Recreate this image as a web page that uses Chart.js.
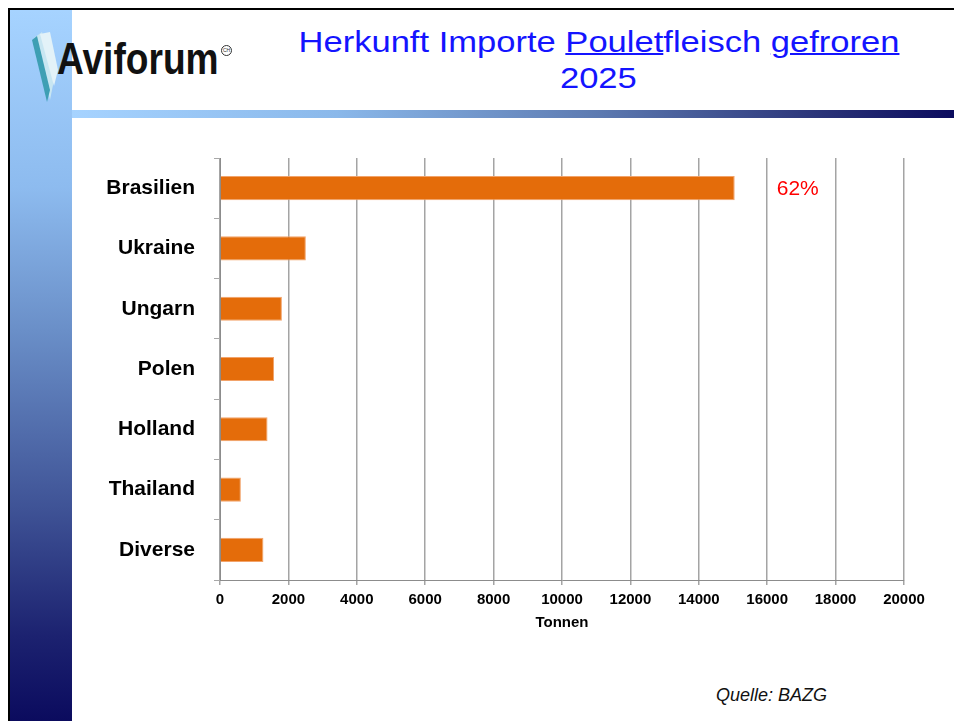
<!DOCTYPE html>
<html>
<head>
<meta charset="utf-8">
<script src="https://cdn.jsdelivr.net/npm/chart.js@4.4.1/dist/chart.umd.min.js"></script>
<style>
  html, body { margin: 0; padding: 0; background: #fff; }
  #slide { position: relative; width: 954px; height: 721px; overflow: hidden; font-family: 'Liberation Sans', Arial, sans-serif; }
  #frameTop { position: absolute; left: 8px; top: 8px; width: 946px; height: 2px; background: #000; }
  #frameLeft { position: absolute; left: 8px; top: 8px; width: 2px; height: 713px; background: #000; }
  #band { position: absolute; left: 10px; top: 10px; width: 62px; height: 711px;
    background: linear-gradient(#a6d3ff 0%, #8dbbef 25%, #6a8fc8 45%, #3f5396 70%, #1c2270 88%, #0b0b5e 100%); }
  #bar { position: absolute; left: 72px; top: 110px; width: 882px; height: 8px;
    background: linear-gradient(to right, #a6d3ff 0%, #8ab8ea 30%, #5c79b0 60%, #2a3378 85%, #0b0b5e 100%); }
  .fit { position: absolute; white-space: nowrap; transform-origin: 0 0; }
  #logo { left: 57px; top: 34px; font-size: 44px; font-weight: bold; color: #111; line-height: 50px; }
  #reg { position: absolute; left: 221px; top: 45px; width: 9px; height: 9px; border: 1px solid #333; border-radius: 50%;
    font-size: 5px; line-height: 9px; text-align: center; color: #333; }
  #title { position: absolute; left: 298px; top: 24px; width: 601px; color: #1414ff; font-size: 30px; line-height: 35.5px; text-align: center; }
  #title .ln { display: inline-block; white-space: nowrap; transform-origin: 50% 0; }
  #title u { text-decoration-thickness: 1.5px; }
  #quelle { position: absolute; left: 716px; top: 685px; font-size: 18px; font-style: italic; color: #111; }
  #c { position: absolute; left: 0; top: 0; }
</style>
</head>
<body>
<div id="slide">
  <div id="band"></div>
  <div id="bar"></div>
  <div id="frameTop"></div>
  <div id="frameLeft"></div>
  <svg style="position:absolute;left:28px;top:30px" width="40" height="75">
    <polygon points="6,8 14,2 26,50 22,70" fill="#c8e6f2"/>
    <polygon points="4,10 9,6 22,60 19,72" fill="#3e9fb4"/>
    <polygon points="12,4 22,2 30,40 26,56" fill="#e3f2f8"/>
  </svg>
  <div id="logo" class="fit">Aviforum</div>
  <div id="reg">CH</div>
  <div id="title">
    <span class="ln" id="t1">Herkunft Importe <u>Poulet</u>fleisch <u>gefroren</u></span><br>
    <span class="ln" id="t2">2025</span>
  </div>
  <div id="quelle">Quelle: BAZG</div>
  <canvas id="c" width="954" height="721"></canvas>
</div>
<script>
// Herkunft der Importe, Tonnen
const categories = ['Brasilien', 'Ukraine', 'Ungarn', 'Polen', 'Holland', 'Thailand', 'Diverse'];
const tonnen = [15050, 2510, 1810, 1580, 1390, 610, 1270];
const xTicks = [0, 2000, 4000, 6000, 8000, 10000, 12000, 14000, 16000, 18000, 20000];
const axisTitle = 'Tonnen';

// squeeze the slide texts to the widths in the original
const logo = document.getElementById('logo');
logo.style.transform = 'scaleX(' + (162 / logo.offsetWidth) + ')';
const t1 = document.getElementById('t1');
const sx = 601 / t1.offsetWidth;
t1.style.transform = 'scaleX(' + sx + ')';
document.getElementById('t2').style.transform = 'scaleX(' + sx + ')';

const fontFam = "'Liberation Sans', Arial, sans-serif";

// percentage next to the biggest bar
const shareLabel = {
  id: 'shareLabel',
  afterDatasetsDraw(chart) {
    const total = tonnen.reduce((a, b) => a + b, 0);
    const el = chart.getDatasetMeta(0).data[0];
    const ctx = chart.ctx;
    ctx.save();
    ctx.font = '21px ' + fontFam;
    ctx.fillStyle = '#ff0000';
    ctx.textBaseline = 'middle';
    ctx.fillText(Math.round(tonnen[0] / total * 100) + '%', el.x + 42, el.y + 1);
    ctx.restore();
  }
};

new Chart(document.getElementById('c'), {
  type: 'bar',
  data: {
    labels: categories,
    datasets: [{
      data: tonnen,
      backgroundColor: '#e46c0a',
      borderColor: '#f2a36a',
      borderWidth: 1,
      barPercentage: 0.4,
      categoryPercentage: 1.0
    }]
  },
  options: {
    indexAxis: 'y',
    responsive: false,
    devicePixelRatio: 1,
    animation: false,
    layout: { padding: { left: 80, top: 158, right: 50, bottom: 85 } },
    plugins: { legend: { display: false }, tooltip: { enabled: false } },
    scales: {
      x: {
        min: 0, max: 20000,
        afterBuildTicks(scale) { scale.ticks = xTicks.map(v => ({ value: v })); },
        afterFit(scale) { scale.height = 56; },
        grid: { color: '#a4a4a4', lineWidth: 1.5, tickLength: 5 },
        border: { color: '#8c8c8c', width: 1 },
        ticks: { color: '#000', padding: 6, font: { family: fontFam, size: 15, weight: 'bold' },
          callback: v => String(v) },
        title: { display: true, text: axisTitle, color: '#000', padding: 4, font: { family: fontFam, size: 15, weight: 'bold' } }
      },
      y: {
        afterFit(scale) { scale.width = 140; },
        grid: { drawOnChartArea: false, tickLength: 6, color: '#a8a8a8', offset: true },
        border: { color: '#8c8c8c', width: 1 },
        ticks: { color: '#000', padding: 19, font: { family: fontFam, size: 21, weight: 'bold' } }
      }
    }
  },
  plugins: [shareLabel]
});
</script>
</body>
</html>
